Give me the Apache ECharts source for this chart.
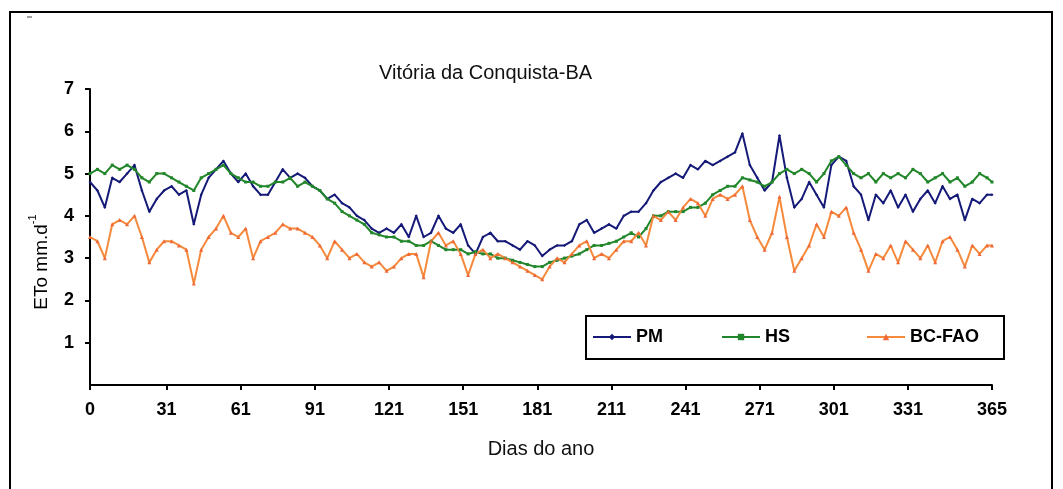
<!DOCTYPE html>
<html>
<head>
    <meta charset="utf-8">
    <title>ETo Vitória da Conquista</title>
    <script src="https://cdn.jsdelivr.net/npm/echarts@6/dist/echarts.min.js"></script>
    <style>
        body { margin: 0; background: #fff; }
    </style>
</head>
<body>
    <div id="main" style="width: 1063px;height:489px;"></div>

    <script>
        // dias do ano (amostra a cada 3 dias)
        var days = [0,3,6,9,12,15,18,21,24,27,30,33,36,39,42,45,48,51,54,57,60,63,66,69,72,75,78,81,84,87,90,93,96,99,102,105,108,111,114,117,120,123,126,129,132,135,138,141,144,147,150,153,156,159,162,165,168,171,174,177,180,183,186,189,192,195,198,201,204,207,210,213,216,219,222,225,228,231,234,237,240,243,246,249,252,255,258,261,264,267,270,273,276,279,282,285,288,291,294,297,300,303,306,309,312,315,318,321,324,327,330,333,336,339,342,345,348,351,354,357,360,363,365];

        // ETo (mm/d)
        var pm = [4.8,4.6,4.2,4.9,4.8,5.0,5.2,4.6,4.1,4.4,4.6,4.7,4.5,4.6,3.8,4.5,4.9,5.1,5.3,5.0,4.8,5.0,4.7,4.5,4.5,4.8,5.1,4.9,5.0,4.9,4.7,4.6,4.4,4.5,4.3,4.2,4.0,3.9,3.7,3.6,3.7,3.6,3.8,3.5,4.0,3.5,3.6,4.0,3.7,3.6,3.8,3.3,3.1,3.5,3.6,3.4,3.4,3.3,3.2,3.4,3.3,3.05,3.2,3.3,3.3,3.4,3.8,3.9,3.6,3.7,3.8,3.7,4.0,4.1,4.1,4.3,4.6,4.8,4.9,5.0,4.9,5.2,5.1,5.3,5.2,5.3,5.4,5.5,5.95,5.2,4.9,4.6,4.8,5.9,4.9,4.2,4.4,4.8,4.5,4.2,5.2,5.4,5.3,4.7,4.5,3.9,4.5,4.3,4.6,4.2,4.5,4.1,4.4,4.6,4.3,4.7,4.4,4.5,3.9,4.4,4.3,4.5,4.5];
        var hs = [5.0,5.1,5.0,5.2,5.1,5.2,5.1,4.9,4.8,5.0,5.0,4.9,4.8,4.7,4.6,4.9,5.0,5.1,5.2,5.0,4.9,4.8,4.8,4.7,4.7,4.8,4.8,4.9,4.7,4.8,4.7,4.6,4.4,4.3,4.1,4.0,3.9,3.8,3.6,3.55,3.5,3.5,3.4,3.4,3.3,3.3,3.4,3.3,3.2,3.2,3.2,3.1,3.15,3.1,3.1,3.0,3.0,2.95,2.9,2.85,2.8,2.8,2.9,2.95,3.0,3.05,3.1,3.2,3.3,3.3,3.35,3.4,3.5,3.6,3.5,3.7,4.0,4.0,4.1,4.1,4.1,4.2,4.2,4.3,4.5,4.6,4.7,4.7,4.9,4.85,4.8,4.7,4.8,5.0,5.1,5.0,5.1,5.0,4.8,5.0,5.3,5.4,5.2,5.0,4.9,5.0,4.8,5.0,4.9,5.0,4.9,5.1,5.0,4.8,4.9,5.0,4.8,4.9,4.7,4.8,5.0,4.9,4.8];
        var bcfao = [3.5,3.4,3.0,3.8,3.9,3.8,4.0,3.5,2.9,3.2,3.4,3.4,3.3,3.2,2.4,3.2,3.5,3.7,4.0,3.6,3.5,3.7,3.0,3.4,3.5,3.6,3.8,3.7,3.7,3.6,3.5,3.3,3.0,3.4,3.2,3.0,3.1,2.9,2.8,2.9,2.7,2.8,3.0,3.1,3.1,2.55,3.4,3.6,3.3,3.4,3.1,2.6,3.1,3.2,3.0,3.1,3.0,2.9,2.8,2.7,2.6,2.5,2.8,3.0,2.9,3.1,3.3,3.4,3.0,3.1,3.0,3.2,3.4,3.4,3.6,3.3,4.0,3.9,4.1,3.9,4.2,4.4,4.3,4.0,4.4,4.5,4.4,4.5,4.7,3.9,3.5,3.2,3.6,4.45,3.5,2.7,3.0,3.3,3.8,3.5,4.1,4.0,4.2,3.6,3.2,2.7,3.1,3.0,3.3,2.9,3.4,3.2,3.0,3.3,2.9,3.4,3.5,3.2,2.8,3.3,3.1,3.3,3.3];

        // rótulos do eixo x
        var xTicks = [0,31,61,91,121,151,181,211,241,271,301,331,365];

        var FONT = '"Liberation Sans", Arial, sans-serif';

        function pairs(vals) {
            return days.map(function (d, i) { return [d, vals[i]]; });
        }

        var myChart = echarts.init(document.getElementById('main'));

        // uma legenda por série, posição fixa como no original
        function legendAt(name, left) {
            return {
                data: [name],
                left: left,
                top: 328,
                itemWidth: 38,
                itemHeight: 8,
                itemGap: 0,
                padding: 0,
                textStyle: { fontFamily: FONT, fontWeight: 'bold', fontSize: 18, color: '#000' }
            };
        }

        var option = {
            animation: false,
            backgroundColor: '#fff',
            title: {
                text: 'Vitória da Conquista-BA',
                left: 374,
                top: 58,
                textStyle: { fontFamily: FONT, fontWeight: 'normal', fontSize: 20, color: '#111' }
            },
            legend: [
                legendAt('PM', 592),
                legendAt('HS', 721),
                legendAt('BC-FAO', 866)
            ],
            grid: { left: 90, top: 89, right: 71, bottom: 104 },
            xAxis: {
                type: 'value',
                min: 0,
                max: 365,
                name: 'Dias do ano',
                nameLocation: 'middle',
                nameGap: 54,
                nameTextStyle: { fontFamily: FONT, fontSize: 20, color: '#111' },
                splitLine: { show: false },
                axisLine: { lineStyle: { color: '#000', width: 2 } },
                axisTick: { customValues: xTicks, length: 5, lineStyle: { color: '#000', width: 2 } },
                axisLabel: {
                    customValues: xTicks,
                    margin: 16,
                    fontFamily: FONT, fontWeight: 'bold', fontSize: 18, color: '#000'
                }
            },
            yAxis: {
                type: 'value',
                min: 0,
                max: 7,
                interval: 1,
                splitLine: { show: false },
                axisLine: { show: true, lineStyle: { color: '#000', width: 2 } },
                axisTick: { show: true, length: 5, lineStyle: { color: '#000', width: 2 } },
                axisLabel: {
                    margin: 16,
                    showMinLabel: false,
                    fontFamily: FONT, fontWeight: 'bold', fontSize: 18, color: '#000'
                }
            },
            graphic: [
                // moldura externa
                { type: 'rect', shape: { x: 10, y: 12, width: 1042, height: 490 },
                  style: { fill: null, stroke: '#000', lineWidth: 2 }, silent: true },
                { type: 'line', shape: { x1: 27, y1: 17, x2: 32, y2: 17 },
                  style: { stroke: '#444', lineWidth: 1 }, silent: true },
                // caixa da legenda
                { type: 'rect', shape: { x: 586, y: 316, width: 418, height: 43 },
                  style: { fill: null, stroke: '#000', lineWidth: 2 }, z: 10, silent: true },
                // título do eixo y
                { type: 'text', x: 39, y: 262, rotation: Math.PI / 2,
                  style: {
                      text: '{a|ETo mm.d}{s|-1}',
                      align: 'center', verticalAlign: 'middle',
                      rich: {
                          a: { fontFamily: FONT, fontSize: 19, color: '#111', lineHeight: 24, verticalAlign: 'bottom' },
                          s: { fontFamily: FONT, fontSize: 11, color: '#111', lineHeight: 24, verticalAlign: 'top' }
                      }
                  }, silent: true }
            ],
            series: [
                {
                    name: 'PM', type: 'line', data: pairs(pm),
                    symbol: 'diamond', symbolSize: 3, showAllSymbol: true,
                    lineStyle: { color: '#151a78', width: 2 },
                    itemStyle: { color: '#151a78' }
                },
                {
                    name: 'HS', type: 'line', data: pairs(hs),
                    symbol: 'rect', symbolSize: 3, showAllSymbol: true,
                    lineStyle: { color: '#22862a', width: 2 },
                    itemStyle: { color: '#22862a' }
                },
                {
                    name: 'BC-FAO', type: 'line', data: pairs(bcfao),
                    symbol: 'triangle', symbolSize: 4, showAllSymbol: true,
                    lineStyle: { color: '#f58a3c', width: 2 },
                    itemStyle: { color: '#ef6a3a' }
                }
            ]
        };

        myChart.setOption(option);
    </script>
</body>
</html>
